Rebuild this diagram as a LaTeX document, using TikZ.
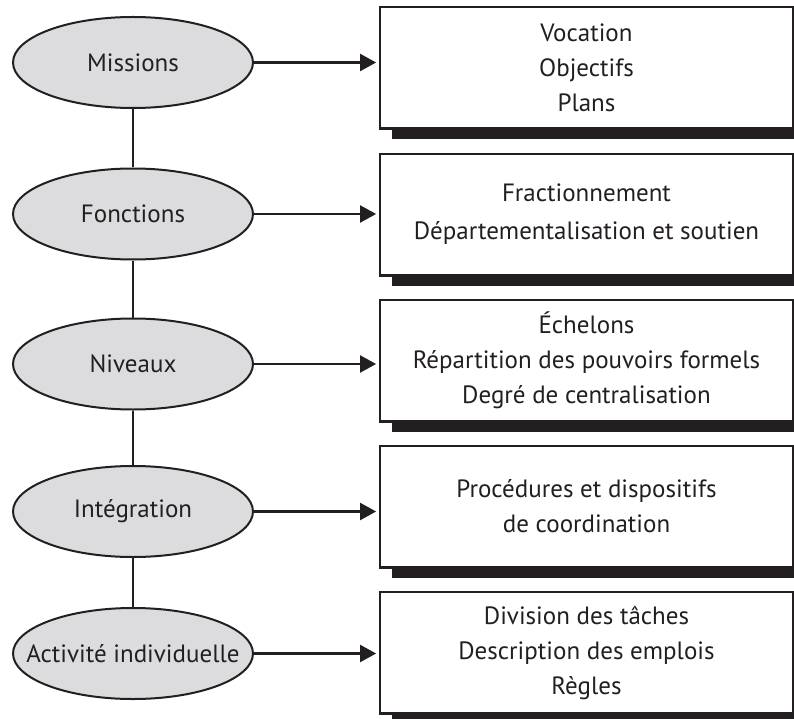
\documentclass[tikz,border=0pt]{standalone}
\usepackage{fontspec}
\setmainfont{PT Sans}
\usetikzlibrary{shapes.geometric,arrows.meta}
\definecolor{ink}{HTML}{231F20}
\definecolor{ellfill}{HTML}{DCDCDE}
\tikzset{
  ell/.style={ellipse, draw=ink, line width=2pt, fill=ellfill, minimum width=240pt, minimum height=91pt, inner sep=0pt, text=ink, font=\fontsize{25}{35}\selectfont},
  boxnode/.style={rectangle, draw=ink, line width=1.8pt, fill=white, minimum width=413pt, minimum height=121pt, inner sep=0pt, align=center, text=ink, font=\fontsize{25}{35}\selectfont},
  shadowfill/.style={fill=ink},
  conn/.style={draw=ink, line width=2.1pt},
  arr/.style={conn, -{Triangle[length=16pt,width=17pt]}, shorten >=3pt}
}
\begin{document}
\begin{tikzpicture}[x=1pt,y=-1pt]
\useasboundingbox (0,0) rectangle (794,719);
% boxes
\node[boxnode] (b1) at (586.5,67.5) {Vocation\\Objectifs\\Plans};
\node[boxnode] (b2) at (586.5,214.5) {Fractionnement\\[3pt]Départementalisation et soutien};
\node[boxnode] (b3) at (586.5,360.5) {Échelons\\Répartition des pouvoirs formels\\Degré de centralisation};
\node[boxnode] (b4) at (586.5,506.5) {Procédures et dispositifs\\de coordination};
\node[boxnode] (b5) at (586.5,652.5) {Division des tâches\\Description des emplois\\Règles};
\foreach \b in {b1,b2,b3,b4,b5}{
  \fill[shadowfill] ([xshift=13pt]\b.south west) rectangle ([xshift=4pt,yshift=-10pt]\b.south east);
  \draw[ink, line width=1.8pt] (\b.south west) -- (\b.south east);
}
% ellipses
\node[ell] (e1) at (133,62.5) {\makebox[0pt]{Missions}};
\node[ell] (e2) at (133,214) {\makebox[0pt]{Fonctions}};
\node[ell] (e3) at (133,364) {\makebox[0pt]{Niveaux}};
\node[ell] (e4) at (133,511.5) {\makebox[0pt]{Intégration}};
\node[ell] (e5) at (133,653.5) {\makebox[0pt]{Activité individuelle}};
% vertical links
\draw[conn] (e1.south) -- (e2.north);
\draw[conn] (e2.south) -- (e3.north);
\draw[conn] (e3.south) -- (e4.north);
\draw[conn] (e4.south) -- (e5.north);
% arrows
\draw[arr] (e1.east) -- (e1.east -| b1.west);
\draw[arr] (e2.east) -- (e2.east -| b2.west);
\draw[arr] (e3.east) -- (e3.east -| b3.west);
\draw[arr] (e4.east) -- (e4.east -| b4.west);
\draw[arr] (e5.east) -- (e5.east -| b5.west);
\end{tikzpicture}
\end{document}
